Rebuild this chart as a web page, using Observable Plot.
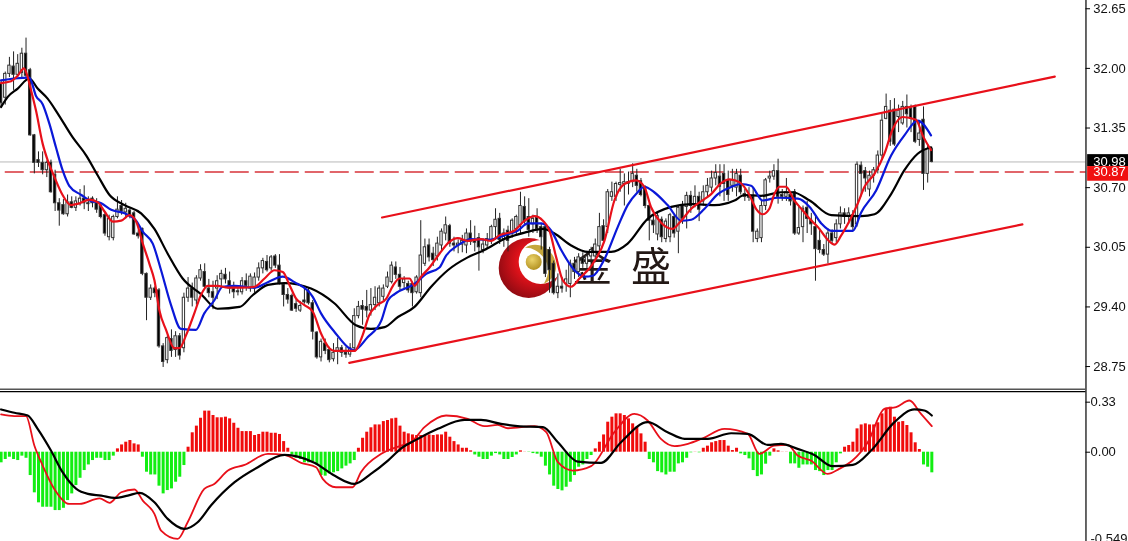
<!DOCTYPE html>
<html><head><meta charset="utf-8">
<script src="https://cdn.jsdelivr.net/npm/d3@7"></script>
<script src="https://cdn.jsdelivr.net/npm/@observablehq/plot@0.6"></script>
<style>html,body{margin:0;padding:0;background:#fff;overflow:hidden}svg{display:block;filter:blur(.3px)}</style>
</head><body><div id="top"></div><div id="bottom"></div>
<script>
const opens=[31.83,31.68,31.94,32.02,31.93,31.95,32.16,31.98,31.27,31.00,
30.97,30.89,30.97,30.84,30.53,30.51,30.41,30.54,30.48,30.52,
30.58,30.53,30.58,30.53,30.50,30.40,30.16,30.15,30.38,30.50,
30.43,30.45,30.42,30.20,30.25,29.76,29.50,29.60,29.58,28.97,
28.82,29.05,28.93,29.08,28.95,29.50,29.60,29.47,29.71,29.78,
29.60,29.56,29.60,29.70,29.75,29.68,29.60,29.57,29.56,29.68,
29.60,29.60,29.72,29.82,29.89,29.82,29.95,29.85,29.64,29.53,
29.52,29.43,29.36,29.47,29.57,29.44,29.12,28.85,29.00,28.93,
28.83,28.92,28.95,28.90,28.88,28.95,29.30,29.41,29.40,29.36,
29.42,29.44,29.51,29.62,29.67,29.83,29.75,29.66,29.65,29.65,
29.56,29.55,29.87,30.07,29.98,29.95,30.07,30.20,30.28,30.09,
30.07,30.08,30.07,30.20,30.12,30.15,30.02,30.07,30.12,30.27,
30.36,30.14,30.23,30.20,30.25,30.29,30.49,30.38,30.30,30.37,
30.27,30.27,30.02,29.87,29.55,29.62,29.65,29.65,29.87,29.78,
29.93,29.87,29.95,29.95,30.06,30.28,30.27,30.60,30.60,30.73,
30.74,30.76,30.77,30.83,30.77,30.70,30.50,30.34,30.19,30.35,
30.14,30.16,30.38,30.22,30.50,30.49,30.61,30.52,30.60,30.55,
30.65,30.70,30.80,30.82,30.85,30.78,30.72,30.70,30.83,30.63,
30.60,30.60,30.14,30.15,30.50,30.80,30.82,30.88,30.62,30.60,
30.62,30.65,30.20,30.27,30.48,30.34,30.27,30.12,30.02,29.97,
30.20,30.15,30.30,30.42,30.38,30.40,30.30,30.94,30.88,30.68,
30.83,30.89,31.05,31.45,31.54,31.55,31.47,31.40,31.58,31.56,
31.58,31.22,31.44,30.85,31.12];
const closes=[31.62,31.94,32.03,31.93,32.05,32.16,31.92,31.27,30.97,30.97,
30.89,30.97,30.65,30.53,30.45,30.41,30.54,30.48,30.55,30.58,
30.53,30.52,30.53,30.46,30.38,30.20,30.36,30.38,30.46,30.44,
30.47,30.39,30.19,30.17,29.76,29.50,29.60,29.55,28.97,28.80,
29.06,28.92,29.08,28.87,29.50,29.60,29.50,29.71,29.80,29.62,
29.55,29.50,29.68,29.76,29.70,29.60,29.56,29.56,29.68,29.63,
29.73,29.72,29.82,29.90,29.80,29.94,29.85,29.66,29.53,29.48,
29.36,29.38,29.41,29.45,29.44,29.13,28.85,29.02,28.92,28.82,
28.90,28.95,28.90,28.88,28.95,29.30,29.40,29.37,29.36,29.42,
29.50,29.60,29.60,29.72,29.85,29.75,29.62,29.70,29.58,29.55,
29.72,29.96,30.05,29.94,29.91,30.09,30.22,30.29,30.09,30.07,
30.09,30.12,30.20,30.11,30.10,30.05,30.08,30.14,30.27,30.35,
30.13,30.20,30.12,30.34,30.38,30.50,30.33,30.24,30.36,30.25,
30.16,29.76,29.80,29.55,29.62,29.60,29.70,29.87,29.78,29.94,
29.87,29.95,30.02,30.08,30.27,30.12,30.65,30.65,30.74,30.75,
30.76,30.74,30.85,30.72,30.62,30.50,30.34,30.29,30.39,30.16,
30.33,30.40,30.20,30.48,30.36,30.61,30.50,30.60,30.46,30.65,
30.72,30.80,30.86,30.71,30.74,30.62,30.78,30.85,30.65,30.60,
30.59,30.22,30.22,30.50,30.78,30.82,30.88,30.60,30.60,30.65,
30.55,30.20,30.26,30.47,30.36,30.30,30.03,30.02,29.97,30.20,
30.12,30.30,30.42,30.38,30.42,30.27,30.95,30.85,30.80,30.83,
30.89,31.05,31.43,31.58,31.20,31.17,31.54,31.58,31.50,31.45,
31.20,31.29,30.85,31.12,30.98];
const highs=[31.87,31.96,32.12,32.18,32.15,32.22,32.33,32.00,31.28,31.09,
31.09,30.99,31.00,30.89,30.58,30.57,30.62,30.60,30.60,30.68,
30.72,30.60,30.60,30.58,30.53,30.43,30.40,30.40,30.60,30.56,
30.53,30.47,30.44,30.23,30.26,29.77,29.64,29.62,29.60,29.00,
29.08,29.15,29.13,29.11,29.55,29.72,29.66,29.74,29.86,29.87,
29.70,29.68,29.74,29.80,29.82,29.78,29.67,29.62,29.72,29.76,
29.76,29.77,29.88,29.93,29.96,29.96,29.97,29.97,29.66,29.60,
29.54,29.48,29.46,29.60,29.60,29.47,29.13,29.05,29.05,28.96,
29.00,29.06,28.98,28.96,29.00,29.38,29.46,29.47,29.58,29.60,
29.62,29.63,29.64,29.78,29.89,29.89,29.83,29.73,29.68,29.67,
29.74,30.34,30.14,30.14,30.05,30.16,30.25,30.38,30.30,30.16,
30.13,30.18,30.25,30.34,30.28,30.20,30.14,30.20,30.29,30.47,
30.42,30.25,30.28,30.36,30.40,30.65,30.60,30.58,30.40,30.47,
30.31,30.30,30.05,29.90,29.76,29.72,29.80,29.91,29.94,29.98,
29.99,30.00,30.05,30.14,30.42,30.35,30.68,30.76,30.76,30.90,
30.85,30.87,30.96,30.90,30.80,30.72,30.52,30.42,30.44,30.38,
30.36,30.42,30.40,30.50,30.55,30.65,30.66,30.72,30.65,30.72,
30.80,30.88,30.95,30.95,30.95,30.88,30.90,30.90,30.90,30.68,
30.70,30.70,30.25,30.55,30.80,30.88,30.95,31.01,30.68,30.80,
30.63,30.68,30.50,30.50,30.55,30.42,30.40,30.25,30.08,30.25,
30.24,30.35,30.49,30.47,30.48,30.45,30.98,30.98,30.92,30.88,
30.92,31.10,31.50,31.72,31.65,31.67,31.60,31.64,31.71,31.60,
31.60,31.43,31.58,31.17,31.14];
const lows=[31.56,31.60,31.90,31.76,31.90,31.90,31.89,31.26,30.85,30.92,
30.84,30.81,30.64,30.44,30.28,30.40,30.38,30.47,30.44,30.50,
30.46,30.44,30.48,30.42,30.36,30.17,30.12,30.12,30.36,30.40,
30.36,30.36,30.18,30.14,29.74,29.25,29.47,29.50,28.95,28.74,
28.78,28.85,28.85,28.82,28.90,29.45,29.40,29.42,29.68,29.60,
29.50,29.37,29.48,29.62,29.65,29.54,29.49,29.52,29.53,29.57,
29.56,29.55,29.68,29.76,29.78,29.79,29.82,29.64,29.40,29.43,
29.35,29.34,29.34,29.43,29.42,29.04,28.83,28.80,28.88,28.79,
28.80,28.77,28.85,28.84,28.85,28.92,29.27,29.20,29.28,29.30,
29.36,29.40,29.47,29.60,29.65,29.70,29.58,29.60,29.55,29.40,
29.54,29.50,29.84,29.89,29.84,29.90,30.00,30.12,30.05,30.00,
29.98,29.99,29.98,30.07,30.00,29.79,29.98,30.03,30.08,30.13,
30.08,30.05,30.00,30.15,30.18,30.20,30.30,30.16,30.20,30.20,
30.02,29.72,29.55,29.53,29.49,29.55,29.56,29.50,29.70,29.72,
29.82,29.80,29.88,29.88,30.00,30.08,30.20,30.55,30.55,30.65,
30.50,30.62,30.70,30.65,30.60,30.47,30.12,30.20,30.12,30.10,
30.10,30.10,30.15,29.98,30.30,30.25,30.42,30.48,30.33,30.50,
30.60,30.65,30.72,30.60,30.55,30.55,30.65,30.60,30.62,30.55,
30.55,30.10,30.10,30.10,30.45,30.75,30.78,30.52,30.55,30.55,
30.50,30.18,30.18,30.10,30.20,30.18,29.68,29.98,29.95,29.87,
30.08,30.10,30.25,30.30,30.30,30.22,30.27,30.60,30.65,30.60,
30.75,30.85,31.00,31.44,31.15,31.15,31.30,31.38,31.35,31.30,
31.18,31.15,30.67,30.75,30.97];
const histogram=[-.070,-.048,-.033,-.048,-.055,-.026,-.040,-.154,-.268,-.334,
-.363,-.363,-.363,-.385,-.385,-.370,-.319,-.275,-.220,-.172,
-.121,-.084,-.055,-.040,-.040,-.055,-.055,-.026,.022,.048,
.066,.077,.055,.048,-.033,-.132,-.150,-.150,-.224,-.275,
-.253,-.242,-.198,-.165,-.088,.033,.128,.172,.224,.271,
.271,.242,.227,.227,.231,.220,.191,.158,.136,.136,
.136,.110,.117,.132,.132,.125,.125,.117,.070,.026,
-.018,-.040,-.048,-.070,-.070,-.062,-.084,-.154,-.158,-.143,
-.136,-.128,-.110,-.092,-.077,-.055,.026,.092,.132,.161,
.180,.180,.202,.209,.220,.224,.172,.132,.121,.114,
.110,.110,.110,.114,.110,.114,.114,.132,.099,.070,
.048,.026,.026,.009,-.018,-.033,-.048,-.048,-.026,-.009,
-.018,-.048,-.048,-.035,-.018,.009,.001,-.002,-.009,-.013,
-.033,-.092,-.150,-.224,-.246,-.255,-.231,-.198,-.154,-.099,
-.084,-.048,-.022,.022,.066,.114,.198,.231,.253,.253,
.242,.220,.187,.165,.121,.066,-.048,-.070,-.128,-.136,
-.150,-.132,-.132,-.077,-.070,-.040,-.004,.001,-.004,.026,
.040,.062,.070,.077,.077,.040,.011,.026,-.011,-.022,
-.044,-.121,-.161,-.150,-.079,-.026,.022,.009,.001,.001,
-.077,-.077,-.106,-.084,-.084,-.084,-.121,-.128,-.154,-.121,
-.121,-.070,-.011,.033,.044,.066,.154,.180,.187,.180,
.180,.194,.253,.290,.297,.231,.198,.202,.176,.128,
.062,.018,-.084,-.099,-.136];
const redBars=[0,2.4,4,5.5,6.3,7.1,8.4,10,11.2,12.8,14.8,16.8,18.9,21.3,23.3,24.9,26.9,28.9,30.9,32.5,34.1,35.7,36.9,38.1,39.7,41.7,42.9,44.5,46.5,48.1,49.7,52.1,54.6,57.8,61,63.4,65.8,67.8,69.4,71,73,75,77,79,80.2,85,87,88.6,90.3,92.7,94.3,95.9,98.3,99.5,101.1,103.1,105.5,107.9,109.9,112.3,115.5,117.9,119.9,123.5,126,128.4,130.4,132,133.6,135.2,137.2,139.2,142.4,145.2,147.6,150,152.8,154.8,156.4,158.8,161.6,163.3,166.1,168.1,170.9,173.3,175.3,177.7,180.1,181.7,183.3,184.9,186.1,187.3,188.9,190.9,192.6,194.6,196.6,199,200.6,202.2,204.2,206.2,207.8,210.2,212.6,214.6,217,220.2,221.8,223.8];
const redPrices=[31.84,31.86,31.92,32.0,31.92,31.78,31.54,31.18,31.0,30.82,30.62,30.51,30.53,30.57,30.54,30.44,30.33,30.34,30.4,30.33,30.09,29.87,29.69,29.36,29.15,28.95,28.95,29.09,29.33,29.53,29.63,29.63,29.61,29.61,29.62,29.71,29.8,29.78,29.64,29.49,29.42,29.35,29.11,28.95,28.92,28.92,29.09,29.31,29.41,29.49,29.63,29.71,29.71,29.63,29.73,29.83,29.98,30.11,30.15,30.12,30.14,30.12,30.18,30.23,30.34,30.39,30.34,30.23,29.94,29.69,29.62,29.71,29.87,30.12,30.56,30.74,30.78,30.71,30.49,30.32,30.25,30.32,30.47,30.54,30.63,30.75,30.79,30.76,30.62,30.47,30.41,30.47,30.63,30.71,30.71,30.56,30.47,30.36,30.27,30.13,30.08,30.18,30.34,30.53,30.71,30.85,31.07,31.34,31.47,31.44,31.27,31.11];
const blueBars=[0,3.2,6.8,8.4,10,11.6,13.2,14.8,16.4,19.3,21.3,24.1,26.5,29.7,32.5,34.1,36.5,38.5,40.9,43.3,46.9,48.9,51.3,53.3,56.2,61,64.2,67.8,70.6,75,77,80.2,85,88.2,91.5,93.1,94.7,99.5,102.3,105.5,107.1,109.9,113.1,117.1,121.1,124.3,126.8,130,132.4,134.8,138,140.4,142.4,145.2,148.4,150.8,153.2,154.8,157.2,160.4,163.7,166.1,169.3,172.5,175.3,178.1,180.5,183.3,186.9,191.8,194.6,197.4,199.8,205,207,210.6,214.2,217.4,220.6,223.8];
const bluePrices=[31.87,31.89,31.9,31.7,31.61,31.4,31.14,30.89,30.72,30.62,30.56,30.53,30.46,30.42,30.34,30.22,30.09,29.8,29.42,29.16,29.15,29.33,29.47,29.62,29.63,29.61,29.67,29.73,29.67,29.51,29.33,29.13,28.93,29.07,29.25,29.47,29.54,29.65,29.76,29.83,29.96,30.07,30.14,30.13,30.18,30.23,30.31,30.31,30.23,30.02,29.8,29.73,29.74,29.92,30.27,30.51,30.65,30.71,30.65,30.51,30.34,30.35,30.47,30.63,30.70,30.74,30.72,30.56,30.59,30.58,30.49,30.31,30.23,30.23,30.43,30.67,31.05,31.27,31.43,31.27];
const blackBars=[0,1.6,4,6.8,8.8,11.2,13.6,17.2,20.5,23.3,26.1,29.7,33.7,36.9,40.1,43.7,48.1,52.1,57.4,60.6,64.2,68.2,74.6,80.2,85.4,89,92.3,95.5,99.5,103.5,107.5,112.3,116.3,121.1,126,130.4,133.2,137.2,141.2,146.8,150.8,155.6,161.3,166.1,171.7,176.5,178.9,182.9,187.7,190.5,194.6,199.8,207,210.2,214.2,217.4,220.6,223.8];
const blackPrices=[31.58,31.69,31.78,31.89,31.78,31.67,31.51,31.25,31.05,30.83,30.62,30.51,30.42,30.25,29.98,29.71,29.54,29.38,29.4,29.53,29.64,29.66,29.6,29.44,29.2,29.16,29.18,29.29,29.4,29.62,29.8,29.94,30.02,30.14,30.21,30.25,30.2,30.07,30.0,30.0,30.09,30.36,30.49,30.52,30.51,30.56,30.62,30.61,30.65,30.65,30.56,30.40,30.39,30.41,30.63,30.89,31.07,31.14];
const macdBars=[0,3.2,6.4,8.8,12,14.8,18.1,20.9,24.1,27.3,30.5,33.3,36.9,40.1,44.1,47.3,50.5,56.2,61.8,68.2,75.4,80.2,85,89,93.1,96.3,100.3,105.1,111.5,115.5,120.3,124.3,130.4,134,138.8,144.4,149.2,155.6,160.4,164.5,170.1,175.7,179.7,184.5,187.7,191.7,195.7,200.1,205,209.4,215,219.8,222.2,224];
const macdValues=[.282,.260,.242,.154,.011,-.132,-.242,-.275,-.286,-.301,-.286,-.268,-.330,-.440,-.506,-.462,-.352,-.198,-.099,-.018,-.070,-.154,-.209,-.143,-.055,.026,.088,.154,.213,.213,.187,.172,.165,.066,-.062,-.070,.066,.198,.132,.088,.088,.125,.121,.048,.055,.022,-.018,-.092,-.084,.011,.198,.282,.275,.242];
const signalBars=[0,3.2,6,8,10,12.8,16.4,18.9,23.7,26.1,28.9,32.1,34.1,36.9,38.5,42.5,44.9,48.9,51.3,54.6,58.6,64.2,68.2,72.2,75.8,77.4,80.6,84.6,86.6,91.5,96.3,98.7,101.9,107.1,112.3,116.3,119.5,122,128.4,131.2,134,137.6,142,147.6,152.4,155.6,158.8,162.1,165.3,168.9,174.1,179.7,182.5,186.1,189.3,191.7,194.9,198.9,201.7,204.9,208.6,212.6,215.4,218.6,221.4,224];
const signalValues=[.249,.238,.238,.044,-.088,-.242,-.341,-.341,-.304,-.334,-.264,-.246,-.319,-.407,-.517,-.572,-.462,-.242,-.209,-.121,-.084,-.011,-.018,-.070,-.099,-.176,-.231,-.231,-.132,-.011,.044,.066,.165,.242,.220,.172,.180,.158,.172,.132,-.066,-.121,-.092,.132,.253,.209,.088,.040,.055,.092,.154,.121,-.011,.044,.048,-.022,-.055,-.143,-.110,-.055,.066,.286,.297,.341,.253,.172];
const upperChannelBars=[91.7,253.6], upperChannelPrices=[30.375,31.91];
const lowerChannelBars=[83.8,245.8], lowerChannelPrices=[28.79,30.30];
const priceTicks=[32.65,32.00,31.35,30.70,30.05,29.40,28.75];
const bidPrice=30.98, linePrice=30.87;
const macdTicks=[0.33,0.00], macdMin=-0.549;
const logoWords=["金","盛"];

const W=1128, BAR=4.155;
const xDomain=[-0.144, (W/BAR)-0.144];
const axisBar=261.1, labelBar=262.85;
const font="'Liberation Sans',Arial,sans-serif";
const pairs=(a,b)=>a.map((v,i)=>({x:v,y:b[i]}));
const candles=opens.map((o,i)=>({i,o,c:closes[i],h:highs[i],l:lows[i]}));
const hist=histogram.map((v,i)=>({i,v}));
const logoBar=127.1, logoPrice=29.82;
const smooth="monotone-x";

function logo(index,{x,y}){
  const g=d3.create("svg:g").attr("transform",`translate(${x(logoBar)},${y(logoPrice)})`);
  const defs=g.append("defs");
  const r=defs.append("radialGradient").attr("id","ballRed").attr("cx","0.6").attr("cy","0.4").attr("r","0.65");
  r.append("stop").attr("offset","0.45").attr("stop-color","#e0121a");
  r.append("stop").attr("offset","1").attr("stop-color","#8e0a12");
  const b=defs.append("radialGradient").attr("id","ballGold").attr("cx","0.4").attr("cy","0.35").attr("r","0.7");
  b.append("stop").attr("offset","0").attr("stop-color","#ecd46a");
  b.append("stop").attr("offset","1").attr("stop-color","#b08e1e");
  g.append("circle").attr("r",30).attr("fill","url(#ballRed)");
  g.append("circle").attr("cx",12).attr("cy",-6).attr("r",22).attr("fill","#fff");
  g.append("path").attr("d","M-4,-20C8,-28 24,-20 27,-5C29,4 24,12 15,16C20,8 21,0 17,-7C12,-16 3,-21 -4,-20Z").attr("fill","#c5a63c");
  g.append("circle").attr("cx",5).attr("cy",-6).attr("r",8).attr("fill","url(#ballGold)");
  return g.node();
}

const topPlot=Plot.plot({
  width:W,height:390,margin:0,
  style:{background:"#fff",fontFamily:font},
  x:{domain:xDomain,axis:null},
  y:{domain:[32.74,28.489],range:[0,390],axis:null},
  marks:[
    logo,
    Plot.text([{w:logoWords[0],b:142.3},{w:logoWords[1],b:156.4}],{x:"b",y:()=>logoPrice,text:"w",fontSize:40,fontFamily:"'Noto Sans CJK SC'",fill:"#231815"}),
    Plot.ruleY([bidPrice],{x1:xDomain[0],x2:axisBar,stroke:"#b8b8b8",strokeWidth:1}),
    Plot.ruleY([linePrice],{x1:1,x2:axisBar,stroke:"#d8333a",strokeWidth:1.4,strokeDasharray:"19,6"}),
    Plot.ruleX(candles,{x:"i",y1:"l",y2:"h",stroke:"#222",strokeWidth:1}),
    Plot.rect(candles,{x1:d=>d.i-0.28,x2:d=>d.i+0.28,y1:"o",y2:"c",fill:d=>d.c>=d.o?"#fff":"#000",stroke:"#333",strokeWidth:1}),
    Plot.line(pairs(blackBars,blackPrices),{x:"x",y:"y",stroke:"#000",strokeWidth:2.2,curve:smooth}),
    Plot.line(pairs(blueBars,bluePrices),{x:"x",y:"y",stroke:"#0a18d8",strokeWidth:2.2,curve:smooth}),
    Plot.line(pairs(redBars,redPrices),{x:"x",y:"y",stroke:"#e8101a",strokeWidth:2.2,curve:smooth}),
    Plot.line(pairs(upperChannelBars,upperChannelPrices),{x:"x",y:"y",stroke:"#e8101a",strokeWidth:2.2}),
    Plot.line(pairs(lowerChannelBars,lowerChannelPrices),{x:"x",y:"y",stroke:"#e8101a",strokeWidth:2.2}),
    Plot.ruleX([axisBar],{stroke:"#000",strokeWidth:1.2}),
    Plot.ruleY(priceTicks,{x1:axisBar,x2:axisBar+1.1,stroke:"#000"}),
    Plot.text(priceTicks,{x:labelBar,y:d=>d,text:d=>d.toFixed(2),textAnchor:"start",fontSize:13,fill:"#111"}),
    Plot.rect([bidPrice],{x1:axisBar+0.4,x2:xDomain[1],y1:d=>d+0.08,y2:d=>d-0.05,fill:"#000"}),
    Plot.text([bidPrice],{x:labelBar,y:d=>d,text:d=>d.toFixed(2),textAnchor:"start",fontSize:13,fill:"#fff"}),
    Plot.rect([linePrice],{x1:axisBar+0.4,x2:xDomain[1],y1:d=>d+0.06,y2:d=>d-0.10,fill:"#f01010"}),
    Plot.text([linePrice],{x:labelBar,y:d=>d,text:d=>d.toFixed(2),textAnchor:"start",fontSize:13,fill:"#fff"}),
    Plot.ruleY([28.5],{x1:xDomain[0],x2:axisBar,stroke:"#555",strokeWidth:2})
  ]
});
document.getElementById("top").appendChild(topPlot);

const bottomPlot=Plot.plot({
  width:W,height:151,margin:0,
  style:{background:"#fff",fontFamily:font},
  x:{domain:xDomain,axis:null},
  y:{domain:[0.407,-0.589],range:[0,151],axis:null},
  marks:[
    Plot.ruleX(hist,{x:"i",y1:()=>0,y2:"v",stroke:d=>d.v>=0?"#f00c0c":"#12ee12",strokeWidth:3}),
    Plot.line(pairs(signalBars,signalValues),{x:"x",y:"y",stroke:"#e8101a",strokeWidth:1.8,curve:smooth}),
    Plot.line(pairs(macdBars,macdValues),{x:"x",y:"y",stroke:"#000",strokeWidth:2.2,curve:smooth}),
    Plot.ruleY([0.4],{x1:xDomain[0],x2:axisBar,stroke:"#000",strokeWidth:1.2}),
    Plot.ruleX([axisBar],{stroke:"#000",strokeWidth:1.2}),
    Plot.ruleY(macdTicks,{x1:axisBar,x2:axisBar+1.1,stroke:"#000"}),
    Plot.text(macdTicks,{x:262.2,y:d=>d,text:d=>d.toFixed(2),textAnchor:"start",fontSize:13,fill:"#111"}),
    Plot.text([macdMin],{x:262.2,y:d=>d,dy:3,text:d=>d.toFixed(3),textAnchor:"start",fontSize:13,fill:"#111"})
  ]
});
document.getElementById("bottom").appendChild(bottomPlot);
</script>
</body></html>
